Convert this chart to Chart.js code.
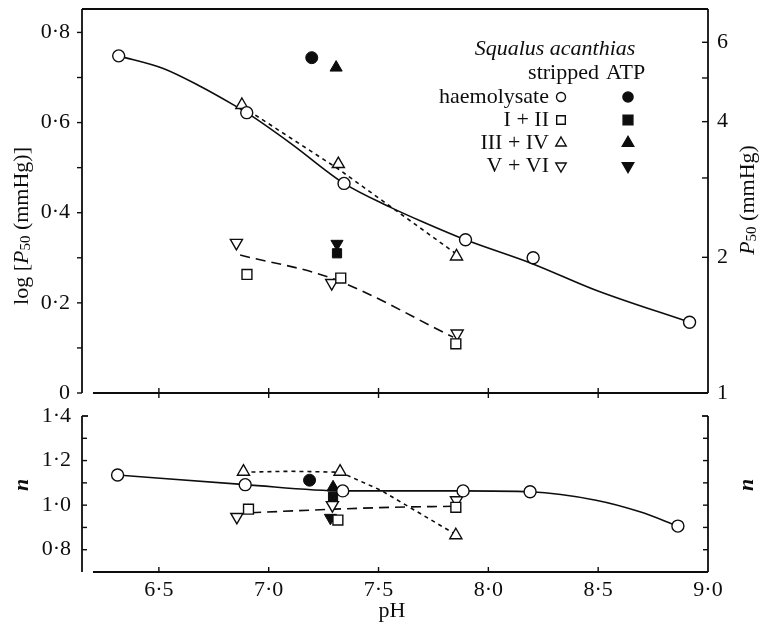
<!DOCTYPE html>
<html><head><meta charset="utf-8">
<script src="https://cdn.jsdelivr.net/npm/chart.js@4/dist/chart.umd.min.js"></script>
<style>
html,body{margin:0;padding:0;background:#fff;}
#wrap{position:relative;width:767px;height:631px;background:#fff;overflow:hidden;}
.pane{position:absolute;left:0;}
</style></head><body>
<div id="wrap">
<div class="pane" style="top:0;width:767px;height:410px"><canvas id="c1" width="767" height="410"></canvas></div>
<div class="pane" style="top:395px;width:767px;height:236px"><canvas id="c2" width="767" height="236"></canvas></div>
</div>
<script>
// ---------- DATA ----------
// Upper panel: log P50 vs pH, stripped samples
const haemPH = [6.317, 6.90, 7.343, 7.896, 8.204, 8.916];
const haemLogP50 = [0.748, 0.622, 0.465, 0.340, 0.300, 0.157];
const i_iiPH = [6.901, 7.328, 7.852];
const i_iiLogP50 = [0.263, 0.255, 0.109];
const iii_ivPH = [6.878, 7.317, 7.855];
const iii_ivLogP50 = [0.639, 0.508, 0.303];
const v_viPH = [6.853, 7.287, 7.858];
const v_viLogP50 = [0.333, 0.244, 0.132];
// ATP samples: haemolysate, I+II, III+IV, V+VI
const atpPH = [7.196, 7.311, 7.307, 7.311];
const atpLogP50 = [0.744, 0.310, 0.722, 0.331];
// fitted curves, upper panel
const haemFitPH = [6.317, 6.52, 6.69, 6.855, 6.90, 7.10, 7.343, 7.55, 7.70, 7.896, 8.20, 8.49, 8.916];
const haemFitLogP50 = [0.748, 0.720, 0.680, 0.635, 0.622, 0.554, 0.465, 0.413, 0.380, 0.340, 0.287, 0.228, 0.157];
const iii_ivFitPH = [6.878, 7.317, 7.85];
const iii_ivFitLogP50 = [0.636, 0.497, 0.310];
const i_vFitPH = [6.87, 7.29, 7.84];
const i_vFitLogP50 = [0.306, 0.254, 0.124];

// Lower panel: n vs pH
const haemNPH = [6.312, 6.893, 7.337, 7.885, 8.19, 8.863];
const haemN = [1.135, 1.092, 1.064, 1.064, 1.060, 0.906];
const i_iiNPH = [6.908, 7.315, 7.852];
const i_iiN = [0.982, 0.933, 0.990];
const iii_ivNPH = [6.885, 7.325, 7.852];
const iii_ivN = [1.150, 1.150, 0.865];
const v_viNPH = [6.855, 7.290, 7.855];
const v_viN = [0.947, 1.000, 1.022];
const atpNPH = [7.186, 7.293, 7.293, 7.281];
const atpN = [1.112, 1.038, 1.080, 0.943];
// fitted curves, lower panel
const haemNFitPH = [6.312, 6.893, 7.337, 7.885, 8.19, 8.49, 8.69, 8.863];
const haemNFit = [1.135, 1.092, 1.064, 1.064, 1.060, 1.022, 0.970, 0.906];
const iii_ivNFitPH = [6.885, 7.10, 7.325, 7.51, 7.852];
const iii_ivNFit = [1.148, 1.152, 1.148, 1.067, 0.868];
const i_vNFitPH = [6.92, 7.30, 7.55, 7.84];
const i_vNFit = [0.966, 0.982, 0.990, 0.995];

// ticks
const phTicks = [6.5, 7.0, 7.5, 8.0, 8.5, 9.0];
const logP50Ticks = [0, 0.2, 0.4, 0.6, 0.8];
const logP50Marks = [0, 0.1, 0.2, 0.3, 0.4, 0.5, 0.6, 0.7, 0.8];
const p50Labels = [1, 2, 4, 6];
const p50Marks = [2, 3, 4, 5, 6];
const nTicks = [0.8, 1.0, 1.2, 1.4];
const nMarks = [0.8, 0.9, 1.0, 1.1, 1.2, 1.3];

// ---------- STYLE ----------
const INK = '#0d0d0d';
const FONT = "'Liberation Serif','Times New Roman',serif";
const FS = 22;
Chart.defaults.font.family = FONT;
Chart.defaults.font.size = FS;
Chart.defaults.color = INK;

const xy = (xs, ys) => xs.map((x, i) => ({x: x, y: ys[i]}));
const dot = v => (v === 0 ? '0' : v.toFixed(1).replace('.', '\u00B7'));
function ln(ctx, x1, y1, x2, y2) { ctx.beginPath(); ctx.moveTo(x1, y1); ctx.lineTo(x2, y2); ctx.stroke(); }
function marker(ctx, kind, x, y, r, filled) {
  ctx.beginPath();
  if (kind === 'circle') ctx.arc(x, y, r, 0, Math.PI * 2);
  else if (kind === 'rect') { ctx.rect(x - r, y - r, 2 * r, 2 * r); }
  else if (kind === 'up') { ctx.moveTo(x, y - r); ctx.lineTo(x + r * 0.866, y + r * 0.5); ctx.lineTo(x - r * 0.866, y + r * 0.5); ctx.closePath(); }
  else { ctx.moveTo(x, y + r); ctx.lineTo(x + r * 0.866, y - r * 0.5); ctx.lineTo(x - r * 0.866, y - r * 0.5); ctx.closePath(); }
  ctx.fillStyle = filled ? INK : '#fff';
  ctx.fill();
  ctx.lineWidth = 1.4; ctx.strokeStyle = INK; ctx.stroke();
}
function subTitle(ctx, cx, cy, parts) {
  let total = 0;
  parts.forEach(p => { ctx.font = p[1]; total += ctx.measureText(p[0]).width; });
  ctx.save(); ctx.translate(cx, cy); ctx.rotate(-Math.PI / 2);
  ctx.textBaseline = 'middle'; ctx.textAlign = 'left'; ctx.fillStyle = INK;
  let xpos = -total / 2;
  parts.forEach(p => { ctx.font = p[1]; ctx.fillText(p[0], xpos, p[2]); xpos += ctx.measureText(p[0]).width; });
  ctx.restore();
}
const ROM = FS + 'px ' + FONT, ITA = 'italic ' + FS + 'px ' + FONT, SUB = '15px ' + FONT;

const fixW = w => s => { s.width = w; s.paddingTop = 0; s.paddingBottom = 0; s.paddingLeft = 0; s.paddingRight = 0; };
const fixH = h => s => { s.height = h; s.paddingTop = 0; s.paddingBottom = 0; s.paddingLeft = 0; s.paddingRight = 0; };
const noGrid = {display: false, drawTicks: false};
const noBorder = {display: false};

function openDS(xs, ys, style, rot, r) {
  return {data: xy(xs, ys), showLine: false, pointStyle: style, rotation: rot, pointRadius: r,
    pointBackgroundColor: '#fff', pointBorderColor: INK, pointBorderWidth: 1.4, order: 0};
}
function lineDS(xs, ys, dash, mono) {
  return {data: xy(xs, ys), showLine: true, pointRadius: 0, borderColor: INK, borderWidth: 1.6,
    borderDash: dash, cubicInterpolationMode: mono ? 'monotone' : 'default', tension: 0, order: 2};
}
const atpStyles = ['circle', 'rect', 'triangle', 'triangle'];
const atpRot = [0, 0, 0, 180];
const atpRad = [6, 6.5, 7, 7];
function atpDS(xs, ys) {
  return {data: xy(xs, ys), showLine: false, pointStyle: atpStyles, rotation: atpRot, pointRadius: atpRad,
    pointBackgroundColor: INK, pointBorderColor: INK, pointBorderWidth: 1, order: 0};
}

const common = {responsive: false, animation: false, devicePixelRatio: 1, events: [],
  plugins: {legend: {display: false}, tooltip: {enabled: false}}};

// ---------- TOP PANEL ----------
const axisStartPH = 6.2;
const topPlugin = {
  id: 'topFrame',
  afterDraw(chart) {
    const ctx = chart.ctx, ca = chart.chartArea, x = chart.scales.x, y = chart.scales.y;
    ctx.save();
    ctx.strokeStyle = INK; ctx.lineWidth = 1.8;
    ln(ctx, ca.left, ca.top, ca.left, ca.bottom);
    ln(ctx, ca.left, ca.top, ca.right, ca.top);
    ln(ctx, ca.right, ca.top, ca.right, ca.bottom);
    ln(ctx, x.getPixelForValue(axisStartPH), ca.bottom, ca.right, ca.bottom);
    ctx.lineWidth = 1.4;
    logP50Marks.forEach(v => { const py = y.getPixelForValue(v); ln(ctx, ca.left - 5, py, ca.left, py); });
    p50Marks.forEach(p => { const py = y.getPixelForValue(Math.log10(p)); ln(ctx, ca.right - 6, py, ca.right, py); });
    phTicks.slice(0, 5).forEach(v => { const px = x.getPixelForValue(v); ln(ctx, px, ca.bottom - 5, px, ca.bottom + 5); });
    // axis titles
    subTitle(ctx, 22, 226, [['log [', ROM, 0], ['P', ITA, 0], ['50', SUB, 4], [' (mmHg)]', ROM, 0]]);
    subTitle(ctx, 748, 200, [['P', ITA, 0], ['50', SUB, 4], [' (mmHg)', ROM, 0]]);
    // key
    ctx.fillStyle = INK; ctx.textBaseline = 'middle';
    ctx.font = ITA; ctx.textAlign = 'center'; ctx.fillText('Squalus acanthias', 555, 49);
    ctx.font = ROM; ctx.textAlign = 'right'; ctx.fillText('stripped', 599, 73);
    ctx.textAlign = 'left'; ctx.fillText('ATP', 606, 73);
    const rows = [['haemolysate', 'circle', 97, 4.5], ['I + II', 'rect', 120, 4.3], ['III + IV', 'up', 143, 6], ['V + VI', 'down', 166, 6]];
    rows.forEach(r => {
      ctx.font = ROM; ctx.fillStyle = INK; ctx.textAlign = 'right'; ctx.fillText(r[0], 549, r[2]);
      marker(ctx, r[1], 561, r[2], r[3], false);
      marker(ctx, r[1], 628, r[2], r[3] + 0.6, true);
    });
    ctx.restore();
  }
};

new Chart(document.getElementById('c1'), {
  type: 'scatter',
  data: {datasets: [
    lineDS(haemFitPH, haemFitLogP50, [], true),
    lineDS(iii_ivFitPH, iii_ivFitLogP50, [4, 4], false),
    lineDS(i_vFitPH, i_vFitLogP50, [10, 6], true),
    openDS(haemPH, haemLogP50, 'circle', 0, 6),
    openDS(i_iiPH, i_iiLogP50, 'rect', 0, 7),
    openDS(iii_ivPH, iii_ivLogP50, 'triangle', 0, 7),
    openDS(v_viPH, v_viLogP50, 'triangle', 180, 7),
    atpDS(atpPH, atpLogP50)
  ]},
  options: Object.assign({}, common, {
    layout: {padding: {top: 9, left: 0, right: 0, bottom: 0}},
    scales: {
      x: {type: 'linear', min: 6.15, max: 9.0, grid: noGrid, border: noBorder, ticks: {display: false}, afterFit: fixH(17)},
      y: {type: 'linear', position: 'left', min: 0, max: 0.852, grid: noGrid, border: noBorder,
        afterBuildTicks: s => { s.ticks = logP50Ticks.map(v => ({value: v})); },
        ticks: {autoSkip: false, padding: 12, callback: v => dot(v)}, afterFit: fixW(82)},
      y2: {type: 'linear', position: 'right', min: 0, max: 0.852, grid: noGrid, border: noBorder,
        afterBuildTicks: s => { s.ticks = p50Labels.map(p => ({value: Math.log10(p)})); },
        ticks: {autoSkip: false, padding: 9, callback: v => String(Math.round(Math.pow(10, v)))}, afterFit: fixW(59)}
    }
  }),
  plugins: [topPlugin]
});

// ---------- BOTTOM PANEL ----------
const botPlugin = {
  id: 'botFrame',
  afterDraw(chart) {
    const ctx = chart.ctx, ca = chart.chartArea, x = chart.scales.x, y = chart.scales.y;
    ctx.save();
    ctx.strokeStyle = INK; ctx.lineWidth = 1.8;
    ln(ctx, ca.left, ca.top, ca.left, ca.bottom);
    ln(ctx, ca.right, ca.top, ca.right, ca.bottom);
    ln(ctx, x.getPixelForValue(axisStartPH), ca.bottom, ca.right, ca.bottom);
    ln(ctx, ca.left, ca.top, ca.left + 6, ca.top);
    ln(ctx, ca.right - 6, ca.top, ca.right, ca.top);
    ctx.lineWidth = 1.4;
    nMarks.forEach(v => { const py = y.getPixelForValue(v); ln(ctx, ca.left, py, ca.left + 5, py); ln(ctx, ca.right - 5, py, ca.right, py); });
    phTicks.slice(0, 5).forEach(v => { const px = x.getPixelForValue(v); ln(ctx, px, ca.bottom - 5, px, ca.bottom); });
    // titles
    subTitle(ctx, 22, 90, [['n', 'italic bold ' + FS + 'px ' + FONT, 0]]);
    subTitle(ctx, 747, 90, [['n', 'italic bold ' + FS + 'px ' + FONT, 0]]);
    ctx.fillStyle = INK; ctx.font = ROM; ctx.textAlign = 'center'; ctx.textBaseline = 'middle';
    ctx.fillText('pH', 392, 216);
    ctx.restore();
  }
};

new Chart(document.getElementById('c2'), {
  type: 'scatter',
  data: {datasets: [
    lineDS(haemNFitPH, haemNFit, [], true),
    lineDS(iii_ivNFitPH, iii_ivNFit, [4, 4], false),
    lineDS(i_vNFitPH, i_vNFit, [10, 6], true),
    openDS(haemNPH, haemN, 'circle', 0, 6),
    openDS(i_iiNPH, i_iiN, 'rect', 0, 7),
    openDS(iii_ivNPH, iii_ivN, 'triangle', 0, 7),
    openDS(v_viNPH, v_viN, 'triangle', 180, 7),
    atpDS(atpNPH, atpN)
  ]},
  options: Object.assign({}, common, {
    layout: {padding: {top: 21, left: 0, right: 0, bottom: 0}},
    scales: {
      x: {type: 'linear', min: 6.15, max: 9.0, grid: noGrid, border: noBorder,
        afterBuildTicks: s => { s.ticks = phTicks.map(v => ({value: v})); },
        ticks: {autoSkip: false, maxRotation: 0, padding: 5, callback: v => dot(v)}, afterFit: fixH(59)},
      y: {type: 'linear', position: 'left', min: 0.7, max: 1.4, grid: noGrid, border: noBorder,
        afterBuildTicks: s => { s.ticks = nTicks.map(v => ({value: v})); },
        ticks: {autoSkip: false, padding: 11, callback: v => dot(v)}, afterFit: fixW(82)},
      y2: {type: 'linear', position: 'right', min: 0.7, max: 1.4, grid: noGrid, border: noBorder,
        ticks: {display: false}, afterFit: fixW(59)}
    }
  }),
  plugins: [botPlugin]
});
</script>
</body></html>
